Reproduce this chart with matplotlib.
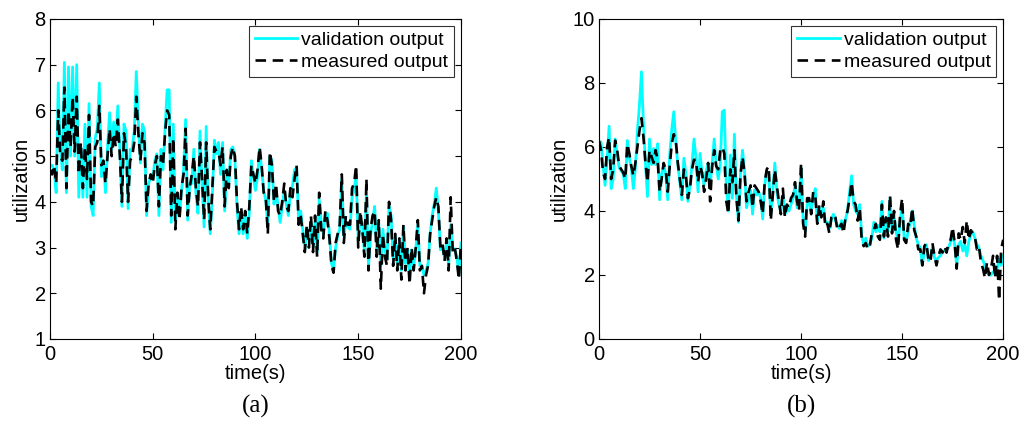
import numpy as np
import matplotlib
matplotlib.use("Agg")
import matplotlib.pyplot as plt

plt.rcParams['font.family'] = ['Liberation Sans', 'DejaVu Sans']

# time axis (s)
time = np.arange(0, 201)

# (a) validation / measured utilization
val_a = [4.8, 4.8, 4.7, 4.2, 6.6, 5.2, 4.7, 7.05, 4.2, 6.95, 5.0, 6.95, 5.0, 7.0, 4.1, 5.2, 4.1, 5.7, 4.1, 6.15,
         3.9, 3.7, 5.4, 5.6, 6.6, 4.55, 4.9, 4.2, 5.2, 5.95, 5.15, 5.75, 5.35, 6.1, 5.15, 3.9, 5.7, 5.55, 3.85, 5.15,
         5.15, 5.55, 6.85, 5.75, 4.85, 5.7, 5.55, 3.7, 4.4, 4.55, 4.5, 4.9, 5.05, 3.7, 5.15, 4.7, 5.6, 6.45, 6.45, 3.55,
         5.7, 3.6, 4.1, 3.7, 4.25, 4.7, 5.8, 3.6, 4.4, 4.4, 5.15, 4.2, 3.75, 5.55, 4.4, 3.45, 5.65, 3.95, 3.3, 4.1,
         5.35, 5.05, 5.3, 4.6, 5.3, 3.8, 4.6, 4.4, 5.15, 5.2, 4.9, 3.9, 3.3, 3.75, 3.3, 3.7, 3.2, 3.75, 4.9, 4.55,
         4.25, 4.55, 5.15, 4.7, 4.25, 4.05, 3.45, 5.0, 4.9, 3.95, 4.25, 3.9, 3.55, 3.9, 4.25, 3.95, 3.7, 4.2, 4.35, 4.7,
         4.75, 3.6, 3.8, 3.4, 2.95, 3.4, 3.15, 3.55, 3.0, 3.6, 2.9, 4.05, 3.55, 3.3, 3.7, 3.75, 3.3, 2.65, 2.5, 3.0,
         3.25, 3.4, 4.5, 3.25, 3.55, 3.45, 3.4, 4.1, 4.25, 4.6, 3.15, 3.6, 3.55, 2.9, 4.2, 2.6, 3.25, 3.6, 3.9, 2.95,
         3.55, 2.6, 3.4, 2.95, 2.75, 3.9, 3.7, 2.75, 3.25, 2.65, 3.1, 2.5, 3.45, 2.65, 2.95, 2.35, 2.95, 2.6, 2.95, 3.5,
         2.6, 2.6, 2.4, 2.5, 2.65, 3.3, 3.7, 3.95, 4.3, 3.8, 2.95, 3.0, 2.8, 3.1, 2.6, 3.5, 3.0, 2.95, 2.8, 2.4,
         3.1]
meas_a = [4.7, 4.6, 4.8, 4.4, 6.0, 5.0, 4.9, 6.5, 4.3, 6.0, 5.2, 6.3, 5.1, 6.3, 4.6, 5.3, 4.3, 5.2, 4.5, 5.9,
          4.0, 3.9, 5.2, 5.3, 6.1, 4.8, 4.9, 4.4, 5.0, 5.6, 5.0, 5.5, 5.2, 5.8, 5.0, 4.0, 5.5, 5.2, 4.0, 4.9,
          5.0, 5.3, 6.3, 5.5, 4.9, 5.5, 5.3, 3.8, 4.4, 4.6, 4.4, 4.8, 5.0, 3.9, 5.0, 4.8, 5.5, 6.0, 5.9, 3.7,
          5.4, 3.4, 4.2, 3.6, 4.3, 4.6, 5.6, 3.7, 4.3, 4.6, 5.0, 4.3, 3.9, 5.3, 4.5, 3.6, 5.3, 4.1, 3.4, 4.3,
          5.2, 5.1, 5.1, 4.8, 5.2, 3.9, 4.7, 4.3, 5.0, 5.2, 5.0, 4.0, 3.4, 3.9, 3.4, 3.8, 3.3, 3.9, 4.8, 4.6,
          4.4, 4.7, 5.2, 4.8, 4.2, 4.1, 3.3, 5.1, 4.8, 4.0, 4.4, 3.8, 3.7, 4.0, 4.4, 3.9, 3.8, 4.3, 4.1, 4.5,
          4.8, 3.5, 3.7, 3.3, 2.9, 3.5, 3.0, 3.7, 2.9, 3.7, 2.8, 4.2, 3.4, 3.2, 3.8, 3.6, 3.2, 2.6, 2.45, 3.1,
          3.3, 3.5, 4.6, 3.1, 3.7, 3.5, 3.5, 4.3, 4.4, 4.8, 3.0, 3.8, 3.4, 2.8, 4.5, 2.5, 3.4, 3.7, 3.8, 2.8,
          3.6, 2.1, 3.3, 2.8, 2.6, 4.0, 3.6, 2.6, 3.3, 2.5, 3.2, 2.3, 3.5, 2.5, 3.0, 2.2, 3.0, 2.5, 3.0, 3.6,
          2.5, 2.6, 2.0, 2.4, 2.6, 3.3, 3.6, 3.9, 4.1, 3.9, 3.0, 3.1, 2.7, 3.2, 2.5, 4.1, 2.9, 3.0, 2.7, 2.3,
          3.1]

# (b) validation / measured utilization
val_b = [6.0, 6.15, 5.45, 4.8, 5.6, 6.65, 4.7, 5.0, 6.25, 5.75, 5.35, 5.25, 5.15, 4.7, 6.2, 5.65, 5.35, 4.7, 5.35, 6.5,
         7.3, 8.35, 6.7, 5.45, 4.45, 6.25, 5.45, 5.95, 5.45, 6.1, 4.35, 5.15, 5.45, 5.15, 4.35, 5.75, 6.55, 7.1, 6.15, 5.45,
         4.9, 4.35, 5.65, 5.15, 4.3, 4.8, 5.45, 6.25, 5.65, 4.6, 5.8, 5.15, 4.8, 5.25, 5.5, 4.8, 5.5, 6.25, 5.45, 5.0,
         5.45, 7.1, 7.15, 4.8, 4.0, 5.75, 4.4, 6.4, 4.5, 3.65, 5.15, 5.9, 5.25, 4.1, 4.4, 4.65, 3.9, 4.65, 4.5, 4.6,
         4.4, 3.75, 4.8, 5.25, 5.15, 3.9, 4.6, 5.5, 4.6, 4.2, 4.0, 4.5, 3.9, 4.1, 4.0, 4.2, 4.4, 4.8, 4.1, 4.2,
         5.35, 3.75, 3.35, 4.2, 4.3, 4.0, 4.4, 4.7, 3.65, 4.1, 3.9, 4.1, 3.65, 3.65, 3.45, 3.75, 3.9, 3.7, 3.55, 3.45,
         3.7, 3.45, 3.75, 4.0, 4.6, 5.1, 4.2, 4.0, 3.9, 4.2, 3.25, 2.95, 3.15, 2.9, 2.95, 3.15, 3.65, 3.35, 3.55, 3.35,
         4.3, 3.15, 3.65, 3.35, 4.4, 3.35, 3.9, 3.35, 3.05, 3.65, 4.2, 3.15, 3.05, 3.35, 3.65, 4.0, 3.55, 3.15, 2.95, 2.85,
         2.3, 2.75, 2.95, 2.45, 2.6, 2.85, 2.55, 2.45, 2.55, 2.6, 2.75, 2.75, 2.8, 2.85, 3.05, 3.25, 2.95, 2.3, 2.95, 3.05,
         2.75, 2.95, 2.6, 3.05, 3.25, 3.35, 3.15, 2.95, 2.85, 2.6, 2.45, 2.3, 2.1, 2.0, 2.0, 2.1, 2.0, 2.2, 2.5, 2.3,
         2.6]
meas_b = [6.2, 5.9, 5.2, 5.0, 6.0, 6.3, 5.0, 5.3, 6.2, 5.9, 5.4, 5.3, 5.2, 5.0, 6.1, 5.8, 5.4, 5.1, 5.5, 6.0,
          6.5, 6.9, 6.3, 5.5, 4.9, 5.9, 5.7, 5.5, 5.9, 5.6, 4.6, 5.0, 5.5, 5.3, 4.6, 5.4, 6.1, 6.4, 6.2, 5.5,
          5.0, 4.5, 5.3, 5.1, 4.4, 4.7, 5.3, 5.6, 5.6, 4.9, 5.4, 5.2, 4.6, 5.0, 5.5, 4.3, 5.4, 5.9, 5.4, 5.3,
          5.9, 6.0, 5.8, 4.3, 3.9, 5.3, 4.9, 5.9, 4.4, 3.7, 5.1, 5.7, 5.2, 4.3, 4.6, 4.8, 4.1, 4.8, 4.7, 4.6,
          4.3, 3.9, 4.9, 5.3, 5.4, 3.7, 4.5, 5.3, 4.8, 4.3, 3.9, 4.7, 3.8, 4.2, 4.1, 4.4, 4.5, 4.9, 4.3, 4.0,
          5.5, 3.6, 3.2, 4.4, 4.4, 3.9, 4.6, 4.5, 3.6, 4.2, 3.8, 4.3, 3.5, 3.6, 3.3, 3.8, 3.9, 3.8, 3.4, 3.5,
          3.6, 3.3, 3.8, 4.0, 4.4, 4.9, 4.3, 4.2, 3.7, 4.1, 3.1, 2.9, 3.0, 2.8, 2.9, 3.3, 3.4, 3.6, 3.2, 3.1,
          4.2, 3.2, 3.8, 3.2, 4.5, 3.3, 4.0, 3.1, 2.8, 3.9, 4.4, 3.1, 3.0, 3.6, 3.5, 4.1, 3.4, 3.2, 2.8, 2.8,
          2.3, 2.9, 3.0, 2.5, 2.4, 3.0, 2.6, 2.3, 2.6, 2.8, 2.7, 2.9, 2.7, 3.0, 3.1, 3.5, 3.0, 2.2, 3.3, 3.1,
          3.5, 3.0, 3.7, 3.1, 3.4, 3.3, 3.2, 2.8, 2.9, 2.4, 2.2, 1.9, 2.4, 2.0, 2.2, 2.6, 1.9, 2.6, 1.2, 2.8,
          3.1]

panels = [
    ([0.0485, 0.2225, 0.3986, 0.734], val_a, meas_a, (1, 8), range(1, 9), "(a)"),
    ([0.581, 0.2225, 0.392, 0.734], val_b, meas_b, (0, 10), range(0, 11, 2), "(b)"),
]

fig = plt.figure(figsize=(10.31, 4.36), dpi=100)
for rect, v, m, ylim, yt, cap in panels:
    ax = fig.add_axes(rect)
    ax.plot(time, v, color='cyan', lw=2.0, label='validation output')
    ax.plot(time, m, color='black', lw=1.9, dashes=(4, 2.5), label='measured output')
    ax.set_xlim(0, 200)
    ax.set_ylim(*ylim)
    ax.set_xticks([0, 50, 100, 150, 200])
    ax.set_yticks(list(yt))
    ax.tick_params(direction='in', top=True, right=True, length=4, width=0.8,
                   labelsize=14.5)
    ax.tick_params(axis='x', pad=4)
    ax.tick_params(axis='y', pad=3)
    ax.set_xlabel('time(s)', fontsize=14.5, labelpad=0.5)
    ax.set_ylabel('utilization', fontsize=14.5, labelpad=3)
    leg = ax.legend(loc='upper right', fontsize=14, frameon=True, fancybox=False,
                    borderaxespad=0.35, handlelength=2.2, handletextpad=0.2,
                    borderpad=0.3, labelspacing=0.22)
    leg.get_frame().set_edgecolor('black')
    leg.get_frame().set_linewidth(0.8)
    x0 = rect[0] + rect[2] / 2
    fig.text(x0, 0.068, cap, ha='center', va='center', fontsize=18,
             family=['Liberation Serif', 'DejaVu Serif'])

fig.savefig('out.png', dpi=100)
